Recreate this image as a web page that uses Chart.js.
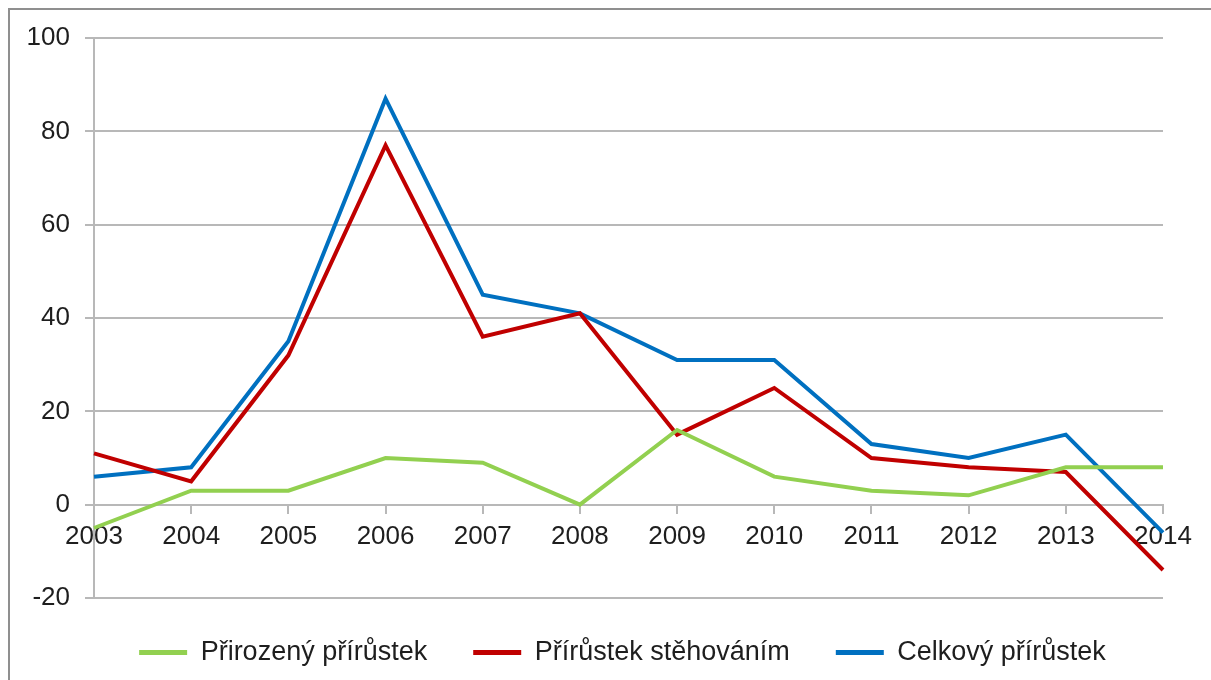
<!DOCTYPE html>
<html>
<head>
<meta charset="utf-8">
<script src="https://cdn.jsdelivr.net/npm/chart.js@4/dist/chart.umd.min.js"></script>
<style>
  html, body { margin: 0; padding: 0; background: #ffffff; }
  body { width: 1211px; height: 680px; position: relative; overflow: hidden; }
  #frame { position: absolute; left: 8px; top: 8px; width: 1400px; height: 900px;
           border-left: 2px solid #8f8f8f; border-top: 2px solid #8f8f8f; box-sizing: border-box; }
  #wrap { position: absolute; left: 0; top: 0; width: 1211px; height: 680px; }
</style>
</head>
<body>
<div id="frame"></div>
<div id="wrap"><canvas id="c" width="1211" height="680"></canvas></div>
<script>
const years = ['2003','2004','2005','2006','2007','2008','2009','2010','2011','2012','2013','2014'];
const prirozeny = [-5, 3, 3, 10, 9, 0, 16, 6, 3, 2, 8, 8];
const stehovanim = [11, 5, 32, 77, 36, 41, 15, 25, 10, 8, 7, -14];
const celkovy = [6, 8, 35, 87, 45, 41, 31, 31, 13, 10, 15, -6];
const seriesNames = ['Přirozený přírůstek', 'Přírůstek stěhováním', 'Celkový přírůstek'];
const yTicks = [-20, 0, 20, 40, 60, 80, 100];

const FONT = 'Liberation Sans, Arial, sans-serif';
const TEXT = '#1e1e1e';
const GRID = '#b8b8b8';

const legendShift = {
  id: 'legendShift',
  afterLayout(chart) {
    const lg = chart.legend;
    if (!lg) return;
    lg.top -= 5;
    lg.bottom = chart.height;
    lg.left += 41; lg.right += 41;
  }
};

new Chart(document.getElementById('c'), {
  type: 'line',
  data: {
    labels: years,
    datasets: [
      { label: seriesNames[0], data: prirozeny, borderColor: '#92d050', backgroundColor: '#92d050' },
      { label: seriesNames[1], data: stehovanim, borderColor: '#c00000', backgroundColor: '#c00000' },
      { label: seriesNames[2], data: celkovy, borderColor: '#0070c0', backgroundColor: '#0070c0' }
    ]
  },
  options: {
    responsive: false,
    animation: false,
    events: [],
    layout: { padding: { left: 0, right: 48, top: 38, bottom: 0 } },
    elements: {
      line: { borderWidth: 4, tension: 0, fill: false, borderJoinStyle: 'miter' },
      point: { radius: 0, hoverRadius: 0 }
    },
    scales: {
      x: {
        type: 'category',
        offset: false,
        position: { y: 0 },
        grid: { drawOnChartArea: false, drawTicks: true, tickLength: 8, color: GRID, lineWidth: 2 },
        border: { display: true, color: GRID, width: 2 },
        ticks: { font: { family: FONT, size: 26 }, color: TEXT, padding: 9, maxRotation: 0, autoSkip: false }
      },
      y: {
        min: -20, max: 100,
        afterBuildTicks(scale) { scale.ticks = yTicks.map(v => ({ value: v })); },
        afterFit(scale) { scale.width = 94; },
        grid: { color: GRID, lineWidth: 2, tickLength: 9 },
        border: { display: true, color: GRID, width: 2 },
        ticks: { font: { family: FONT, size: 26 }, color: TEXT, padding: 15 }
      }
    },
    plugins: {
      tooltip: { enabled: false },
      legend: {
        position: 'bottom',
        maxHeight: 82,
        labels: {
          font: { family: FONT, size: 27 },
          color: TEXT,
          boxWidth: 48,
          boxHeight: 5,
          padding: 46,
          generateLabels(chart) {
            const items = Chart.defaults.plugins.legend.labels.generateLabels(chart);
            items.forEach(it => { it.fillStyle = it.strokeStyle; it.lineWidth = 0; });
            return items;
          }
        }
      }
    }
  },
  plugins: [legendShift]
});
</script>
</body>
</html>
